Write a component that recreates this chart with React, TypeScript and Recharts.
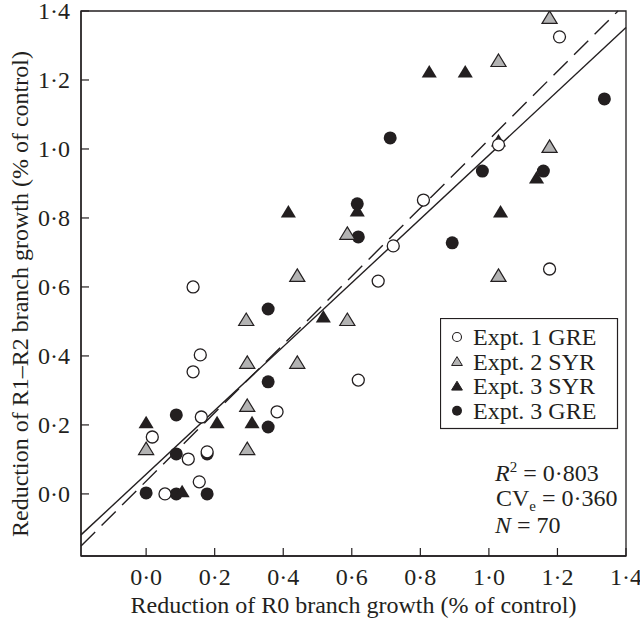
import React from "react";
import { Legend, ReferenceArea, ReferenceLine, Scatter, ScatterChart, XAxis, YAxis } from "recharts";

const SERIF = '"Liberation Serif", "Times New Roman", serif';
const INK = "#231f20";

const X_DOMAIN = [-0.19, 1.4];
const Y_DOMAIN = [-0.18, 1.4];
const X_TICKS = [0, 0.2, 0.4, 0.6, 0.8, 1.0, 1.2, 1.4];
const Y_TICKS = [0, 0.2, 0.4, 0.6, 0.8, 1.0, 1.2, 1.4];

// Expt. 1 GRE (open circles)
const expt1Gre = [
  { x: 0.137, y: 0.6 }, { x: 0.158, y: 0.403 }, { x: 0.137, y: 0.354 }, { x: 0.161, y: 0.223 },
  { x: 0.018, y: 0.165 }, { x: 0.123, y: 0.101 }, { x: 0.178, y: 0.122 }, { x: 0.155, y: 0.035 },
  { x: 0.055, y: 0.0 }, { x: 0.382, y: 0.238 }, { x: 0.619, y: 0.33 }, { x: 1.206, y: 1.325 },
  { x: 1.028, y: 1.012 }, { x: 0.809, y: 0.852 }, { x: 0.721, y: 0.719 }, { x: 0.677, y: 0.617 },
  { x: 1.177, y: 0.652 },
];

// Expt. 2 SYR (grey triangles)
const expt2Syr = [
  { x: 0.292, y: 0.504 }, { x: 0.587, y: 0.504 }, { x: 0.295, y: 0.38 }, { x: 0.441, y: 0.38 },
  { x: 0.295, y: 0.255 }, { x: 0.0, y: 0.13 }, { x: 0.295, y: 0.13 }, { x: 0.441, y: 0.632 },
  { x: 0.587, y: 0.754 }, { x: 1.177, y: 1.38 }, { x: 1.028, y: 1.255 }, { x: 1.177, y: 1.006 },
  { x: 1.028, y: 0.632 },
];

// Expt. 3 SYR (black triangles)
const expt3Syr = [
  { x: 0.415, y: 0.817 }, { x: 0.616, y: 0.82 }, { x: 0.826, y: 1.223 }, { x: 0.931, y: 1.223 },
  { x: 1.139, y: 0.916 }, { x: 1.034, y: 0.817 }, { x: 1.028, y: 1.023 }, { x: 0.0, y: 0.206 },
  { x: 0.207, y: 0.206 }, { x: 0.309, y: 0.206 }, { x: 0.517, y: 0.513 }, { x: 0.105, y: 0.006 },
];

// Expt. 3 GRE (black circles)
const expt3Gre = [
  { x: 0.356, y: 0.536 }, { x: 0.356, y: 0.325 }, { x: 0.088, y: 0.229 }, { x: 0.356, y: 0.194 },
  { x: 0.088, y: 0.116 }, { x: 0.178, y: 0.116 }, { x: 0.0, y: 0.003 }, { x: 0.088, y: 0.0 },
  { x: 0.178, y: 0.0 }, { x: 0.616, y: 0.841 }, { x: 0.619, y: 0.745 }, { x: 0.712, y: 1.032 },
  { x: 0.981, y: 0.936 }, { x: 1.159, y: 0.936 }, { x: 1.337, y: 1.145 }, { x: 0.893, y: 0.728 },
];

const fitSolid = { intercept: 0.057, slope: 0.925 };
const fitDashed = { intercept: 0.037, slope: 0.99 };

const fmt = (v: number) => v.toFixed(1).replace(".", "·");

// line across the x domain, cut off where it leaves the top of the frame
const fitSegment = (fit: { intercept: number; slope: number }) => {
  const x0 = X_DOMAIN[0];
  let x1 = X_DOMAIN[1];
  if (fit.intercept + fit.slope * x1 > Y_DOMAIN[1]) x1 = (Y_DOMAIN[1] - fit.intercept) / fit.slope;
  return [
    { x: x0, y: fit.intercept + fit.slope * x0 },
    { x: x1, y: fit.intercept + fit.slope * x1 },
  ];
};

const tri = (cx: number, cy: number, s: number) =>
  `M${cx},${cy - s} L${cx + s * 1.08},${cy + s * 0.78} L${cx - s * 1.08},${cy + s * 0.78} Z`;

const OpenCircle = (p: any) => <circle cx={p.cx} cy={p.cy} r={6} fill="#fff" stroke={INK} strokeWidth={1.3} />;
const BlackCircle = (p: any) => <circle cx={p.cx} cy={p.cy} r={6.5} fill={INK} />;
const GreyTriangle = (p: any) => <path d={tri(p.cx, p.cy, 7)} fill="#b3b3b3" stroke={INK} strokeWidth={1.2} />;
const BlackTriangle = (p: any) => <path d={tri(p.cx, p.cy, 7)} fill={INK} />;

const XTick = (props: any) => {
  const { x, y, payload } = props;
  return (
    <g>
      <line x1={x} y1={y} x2={x} y2={y - 8} stroke={INK} strokeWidth={1.2} />
      <text x={x} y={y + 29} textAnchor="middle" fontFamily={SERIF} fontSize={24} fill={INK}>
        {fmt(payload.value)}
      </text>
    </g>
  );
};

const YTick = (props: any) => {
  const { x, y, payload } = props;
  return (
    <g>
      <line x1={x} y1={y} x2={x + 8} y2={y} stroke={INK} strokeWidth={1.2} />
      <text x={x - 11} y={y + 8} textAnchor="end" fontFamily={SERIF} fontSize={24} fill={INK}>
        {fmt(payload.value)}
      </text>
    </g>
  );
};

const XTitle = (props: any) => {
  const vb = props.viewBox;
  return (
    <text x={vb.x + vb.width / 2} y={vb.y + 57} textAnchor="middle" fontFamily={SERIF} fontSize={24} fill={INK}>
      Reduction of R0 branch growth (% of control)
    </text>
  );
};

const YTitle = (props: any) => {
  const vb = props.viewBox;
  const cx = vb.x + 28;
  const cy = 294;
  return (
    <text x={cx} y={cy} transform={`rotate(-90, ${cx}, ${cy})`} textAnchor="middle" fontFamily={SERIF} fontSize={24} fill={INK}>
      Reduction of R1–R2 branch growth (% of control)
    </text>
  );
};

const keyRows = [
  { label: "Expt. 1 GRE", kind: "open" },
  { label: "Expt. 2 SYR", kind: "grey" },
  { label: "Expt. 3 SYR", kind: "tri" },
  { label: "Expt. 3 GRE", kind: "dot" },
];

const KeyBox = () => (
  <svg width={186} height={230} style={{ display: "block" }}>
    <rect x={0.5} y={0.5} width={177} height={110} fill="#fff" stroke={INK} strokeWidth={1.2} />
    {keyRows.map((r, i) => {
      const cy = 19 + i * 24.6;
      let mark;
      if (r.kind === "open") mark = <circle cx={17} cy={cy} r={4.5} fill="#fff" stroke={INK} strokeWidth={1.1} />;
      else if (r.kind === "dot") mark = <circle cx={17} cy={cy} r={5} fill={INK} />;
      else mark = <path d={tri(17, cy, 5)} fill={r.kind === "grey" ? "#b3b3b3" : INK} stroke={INK} strokeWidth={1} />;
      return (
        <g key={r.label}>
          {mark}
          <text x={33} y={cy + 8} fontFamily={SERIF} fontSize={24} fill={INK}>
            {r.label}
          </text>
        </g>
      );
    })}
    <g fontFamily={SERIF} fontSize={24} fill={INK}>
      <text x={55} y={163}>
        <tspan fontStyle="italic">R</tspan>
        <tspan fontSize={15} dy={-9}>2</tspan>
        <tspan dy={9}> = 0·803</tspan>
      </text>
      <text x={56} y={188}>
        CV
        <tspan fontSize={15} dy={5}>e</tspan>
        <tspan dy={-5}> = 0·360</tspan>
      </text>
      <text x={55} y={215}>
        <tspan fontStyle="italic">N</tspan> = 70
      </text>
    </g>
  </svg>
);

export default function App() {
  return (
    <div style={{ position: "absolute", left: 0, top: 0, background: "#fff" }}>
      <ScatterChart width={640} height={618} margin={{ top: 11, right: 14, bottom: 0, left: 0 }}>
        <XAxis
          type="number"
          dataKey="x"
          domain={X_DOMAIN}
          ticks={X_TICKS}
          interval={0}
          allowDataOverflow
          height={62}
          tickSize={0}
          tickMargin={0}
          tickLine={false}
          tick={<XTick />}
          axisLine={{ stroke: INK, strokeWidth: 1.3 }}
          label={{ content: XTitle }}
        />
        <YAxis
          type="number"
          dataKey="y"
          domain={Y_DOMAIN}
          ticks={Y_TICKS}
          interval={0}
          allowDataOverflow
          width={81}
          tickSize={0}
          tickMargin={0}
          tickLine={false}
          tick={<YTick />}
          axisLine={{ stroke: INK, strokeWidth: 1.3 }}
          label={{ content: YTitle }}
        />
        <ReferenceArea
          x1={X_DOMAIN[0]}
          x2={X_DOMAIN[1]}
          y1={Y_DOMAIN[0]}
          y2={Y_DOMAIN[1]}
          fill="none"
          stroke={INK}
          strokeWidth={1.3}
          ifOverflow="visible"
        />
        <ReferenceLine segment={fitSegment(fitSolid)} stroke={INK} strokeWidth={1.4} ifOverflow="visible" />
        <ReferenceLine
          segment={fitSegment(fitDashed)}
          stroke={INK}
          strokeWidth={1.4}
          strokeDasharray="20 9"
          ifOverflow="visible"
        />
        <Scatter name="Expt. 3 GRE" data={expt3Gre} shape={BlackCircle} isAnimationActive={false} />
        <Scatter name="Expt. 3 SYR" data={expt3Syr} shape={BlackTriangle} isAnimationActive={false} />
        <Scatter name="Expt. 2 SYR" data={expt2Syr} shape={GreyTriangle} isAnimationActive={false} />
        <Scatter name="Expt. 1 GRE" data={expt1Gre} shape={OpenCircle} isAnimationActive={false} />
        <Legend
          layout="vertical"
          align="center"
          verticalAlign="middle"
          wrapperStyle={{ left: 440, top: 318, width: 186, height: 230 }}
          content={() => <KeyBox />}
        />
      </ScatterChart>
    </div>
  );
}
